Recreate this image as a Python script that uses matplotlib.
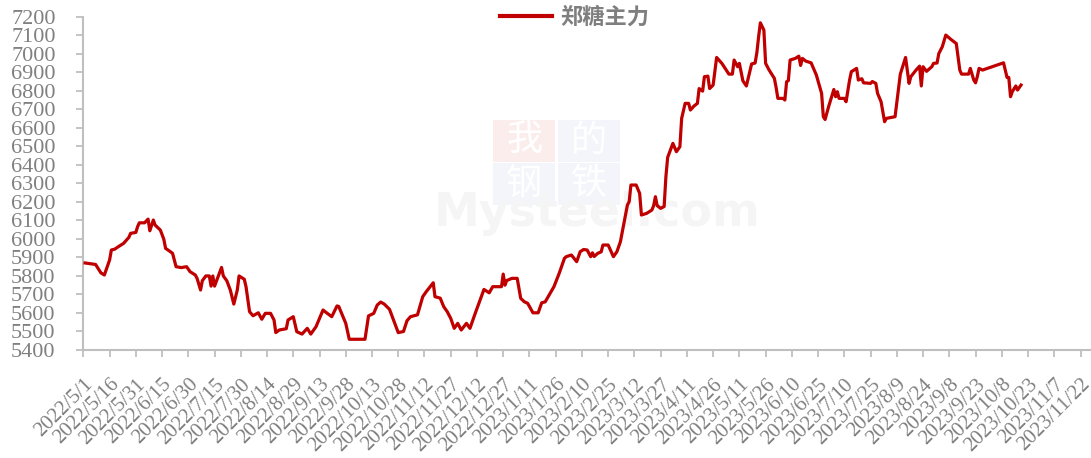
import matplotlib
matplotlib.use("Agg")
import matplotlib.pyplot as plt
from matplotlib.patches import Rectangle
import pandas as pd

series_name = "郑糖主力"

dates = [
    "2022-05-02","2022-05-08","2022-05-11","2022-05-13","2022-05-16","2022-05-17","2022-05-19","2022-05-21",
    "2022-05-24","2022-05-27","2022-05-28","2022-05-31","2022-06-01","2022-06-02","2022-06-05","2022-06-07",
    "2022-06-08","2022-06-10","2022-06-11","2022-06-14","2022-06-16","2022-06-17","2022-06-19","2022-06-21",
    "2022-06-23","2022-06-26","2022-06-29","2022-07-01","2022-07-04","2022-07-05","2022-07-07","2022-07-08",
    "2022-07-10","2022-07-12","2022-07-13","2022-07-14","2022-07-15","2022-07-17","2022-07-19","2022-07-20",
    "2022-07-22","2022-07-24","2022-07-26","2022-07-28","2022-07-29","2022-08-01","2022-08-02","2022-08-04",
    "2022-08-06","2022-08-09","2022-08-11","2022-08-13","2022-08-16","2022-08-18","2022-08-19","2022-08-21",
    "2022-08-25","2022-08-26","2022-08-29","2022-08-31","2022-09-03","2022-09-06","2022-09-08","2022-09-11",
    "2022-09-15","2022-09-17","2022-09-20","2022-09-23","2022-09-24","2022-09-28","2022-09-30","2022-10-09",
    "2022-10-11","2022-10-14","2022-10-16","2022-10-18","2022-10-20","2022-10-23","2022-10-26","2022-10-28",
    "2022-10-31","2022-11-02","2022-11-04","2022-11-08","2022-11-11","2022-11-13","2022-11-17","2022-11-18",
    "2022-11-21","2022-11-23","2022-11-25","2022-11-27","2022-11-29","2022-12-01","2022-12-03","2022-12-06",
    "2022-12-08","2022-12-11","2022-12-16","2022-12-19","2022-12-21","2022-12-26","2022-12-27","2022-12-28",
    "2022-12-29","2023-01-01","2023-01-04","2023-01-06","2023-01-08","2023-01-10","2023-01-13","2023-01-16",
    "2023-01-18","2023-01-20","2023-01-25","2023-01-28","2023-01-31","2023-02-01","2023-02-04","2023-02-07",
    "2023-02-09","2023-02-11","2023-02-13","2023-02-15","2023-02-16","2023-02-17","2023-02-19","2023-02-21",
    "2023-02-22","2023-02-25","2023-02-28","2023-03-02","2023-03-04","2023-03-06","2023-03-08","2023-03-09",
    "2023-03-10","2023-03-13","2023-03-15","2023-03-16","2023-03-19","2023-03-22","2023-03-23","2023-03-24",
    "2023-03-25","2023-03-27","2023-03-29","2023-03-30","2023-03-31","2023-04-03","2023-04-05","2023-04-07",
    "2023-04-08","2023-04-10","2023-04-12","2023-04-13","2023-04-15","2023-04-17","2023-04-18","2023-04-20",
    "2023-04-21","2023-04-23","2023-04-24","2023-04-26","2023-04-28","2023-05-01","2023-05-05","2023-05-07",
    "2023-05-08","2023-05-10","2023-05-11","2023-05-13","2023-05-15","2023-05-18","2023-05-20","2023-05-21",
    "2023-05-22","2023-05-23","2023-05-25","2023-05-26","2023-05-28","2023-05-31","2023-06-01","2023-06-02",
    "2023-06-05","2023-06-06","2023-06-07","2023-06-08","2023-06-09","2023-06-12","2023-06-14","2023-06-15",
    "2023-06-16","2023-06-18","2023-06-21","2023-06-24","2023-06-27","2023-06-28","2023-06-29","2023-07-01",
    "2023-07-04","2023-07-05","2023-07-06","2023-07-07","2023-07-10","2023-07-11","2023-07-13","2023-07-14",
    "2023-07-17","2023-07-18","2023-07-20","2023-07-21","2023-07-25","2023-07-26","2023-07-28","2023-07-29",
    "2023-07-31","2023-08-02","2023-08-03","2023-08-08","2023-08-10","2023-08-11","2023-08-14","2023-08-16",
    "2023-08-17","2023-08-20","2023-08-22","2023-08-23","2023-08-24","2023-08-26","2023-08-29","2023-08-30",
    "2023-09-01","2023-09-02","2023-09-04","2023-09-06","2023-09-09","2023-09-12","2023-09-14","2023-09-15",
    "2023-09-19","2023-09-20","2023-09-22","2023-09-23","2023-09-24","2023-09-25","2023-09-27","2023-10-09",
    "2023-10-11","2023-10-12","2023-10-13","2023-10-14","2023-10-16","2023-10-17","2023-10-19",
]

prices = [
    5870, 5862, 5817, 5805, 5886, 5940, 5945, 5958,
    5976, 6008, 6030, 6035, 6066, 6087, 6087, 6107,
    6044, 6102, 6075, 6048, 5998, 5949, 5936, 5922,
    5850, 5845, 5850, 5823, 5805, 5787, 5724, 5774,
    5800, 5800, 5745, 5800, 5745, 5795, 5846, 5800,
    5774, 5724, 5648, 5724, 5800, 5782, 5741, 5607,
    5585, 5601, 5566, 5598, 5598, 5562, 5494, 5508,
    5515, 5562, 5580, 5499, 5486, 5517, 5486, 5526,
    5616, 5601, 5580, 5638, 5635, 5544, 5458, 5458,
    5584, 5598, 5643, 5659, 5648, 5620, 5544, 5494,
    5500, 5558, 5580, 5590, 5688, 5715, 5763, 5688,
    5680, 5634, 5607, 5571, 5517, 5544, 5508, 5544,
    5517, 5598, 5727, 5709, 5742, 5742, 5810, 5750,
    5775, 5787, 5787, 5679, 5661, 5652, 5601, 5601,
    5655, 5660, 5742, 5814, 5895, 5904, 5913, 5877,
    5931, 5943, 5940, 5904, 5925, 5905, 5922, 5930,
    5967, 5967, 5904, 5931, 5985, 6084, 6183, 6201,
    6291, 6291, 6246, 6129, 6138, 6156, 6180, 6228,
    6180, 6165, 6175, 6336, 6440, 6516, 6471, 6498,
    6651, 6732, 6732, 6696, 6717, 6732, 6812, 6798,
    6876, 6879, 6812, 6831, 6980, 6948, 6890, 6890,
    6966, 6930, 6948, 6854, 6826, 6945, 6950, 7006,
    7092, 7167, 7128, 6948, 6912, 6867, 6818, 6759,
    6759, 6750, 6849, 6855, 6966, 6975, 6987, 6937,
    6975, 6960, 6951, 6885, 6786, 6660, 6645, 6714,
    6807, 6768, 6795, 6759, 6759, 6741, 6858, 6903,
    6921, 6858, 6865, 6843, 6840, 6850, 6840, 6786,
    6741, 6633, 6651, 6660, 6812, 6890, 6980, 6840,
    6876, 6912, 6933, 6826, 6930, 6905, 6930, 6948,
    6950, 7001, 7038, 7101, 7077, 7055, 6912, 6890,
    6890, 6921, 6858, 6843, 6876, 6921, 6912, 6951,
    6872, 6872, 6768, 6795, 6826, 6804, 6831,
]

tick_dates = [
    "2022-05-01","2022-05-16","2022-05-31","2022-06-15","2022-06-30","2022-07-15","2022-07-30","2022-08-14",
    "2022-08-29","2022-09-13","2022-09-28","2022-10-13","2022-10-28","2022-11-12","2022-11-27","2022-12-12",
    "2022-12-27","2023-01-11","2023-01-26","2023-02-10","2023-02-25","2023-03-12","2023-03-27","2023-04-11",
    "2023-04-26","2023-05-11","2023-05-26","2023-06-10","2023-06-25","2023-07-10","2023-07-25","2023-08-09",
    "2023-08-24","2023-09-08","2023-09-23","2023-10-08","2023-10-23","2023-11-07","2023-11-22",
]
tick_labels = [
    "2022/5/1","2022/5/16","2022/5/31","2022/6/15","2022/6/30","2022/7/15","2022/7/30","2022/8/14",
    "2022/8/29","2022/9/13","2022/9/28","2022/10/13","2022/10/28","2022/11/12","2022/11/27","2022/12/12",
    "2022/12/27","2023/1/11","2023/1/26","2023/2/10","2023/2/25","2023/3/12","2023/3/27","2023/4/11",
    "2023/4/26","2023/5/11","2023/5/26","2023/6/10","2023/6/25","2023/7/10","2023/7/25","2023/8/9",
    "2023/8/24","2023/9/8","2023/9/23","2023/10/8","2023/10/23","2023/11/7","2023/11/22",
]
y_ticks = list(range(5400, 7201, 100))

LINE = "#C00000"
AXIS = "#BFBFBF"
TXT = "#808080"

fig = plt.figure(figsize=(10.91, 4.58), dpi=100)
ax = fig.add_axes([0.0764, 0.2358, 0.9236, 0.7277])

x = pd.to_datetime(dates)
ax.plot(x, prices, color=LINE, lw=2.3, solid_joinstyle="round", label=series_name, zorder=5)

ax.set_xlim(pd.Timestamp("2022-05-01"), pd.Timestamp("2023-11-28"))
ax.set_ylim(5400, 7200)

ax.set_yticks(y_ticks)
ax.set_yticklabels([str(v) for v in y_ticks])
ax.set_xticks(pd.to_datetime(tick_dates))
ax.set_xticklabels(tick_labels, rotation=45, ha="right", va="top", rotation_mode="anchor")

for s in ("top", "right"):
    ax.spines[s].set_visible(False)
for s in ("left", "bottom"):
    ax.spines[s].set_color(AXIS)
    ax.spines[s].set_linewidth(1.5)

ax.tick_params(axis="both", colors=AXIS, width=1.3, length=5, direction="out")
ax.tick_params(axis="y", pad=15)
ax.tick_params(axis="x", pad=13)
for lab in ax.get_yticklabels():
    lab.set_fontfamily("Liberation Serif")
    lab.set_fontsize(16)
    lab.set_color(TXT)
for lab in ax.get_xticklabels():
    lab.set_fontfamily("Liberation Serif")
    lab.set_fontsize(15)
    lab.set_color(TXT)

# faint watermark
wm_boxes = [("我", 0.4066, 0.564, "#FCEDED"), ("的", 0.4711, 0.564, "#F3F5FA"),
            ("钢", 0.4066, 0.435, "#F3F5FA"), ("铁", 0.4711, 0.435, "#F3F5FA")]
for ch, bx, by, bg in wm_boxes:
    ax.add_patch(Rectangle((bx, by), 0.0615, 0.125, transform=ax.transAxes,
                           facecolor=bg, edgecolor="none", zorder=0))
    ax.text(bx + 0.031, by + 0.0625, ch, transform=ax.transAxes, ha="center", va="center",
            fontsize=26, color="#FFFFFF", family="Noto Sans CJK SC", zorder=1)
ax.text(0.51, 0.41, "Mysteel.com", transform=ax.transAxes, ha="center", va="center",
        fontsize=33, fontweight="bold", color="#F5F5F5", family="DejaVu Sans", zorder=1)

leg = fig.legend(loc="center", bbox_to_anchor=(0.527, 0.962), frameon=False,
                 handlelength=2.3, handletextpad=0.4,
                 prop={"family": "Noto Sans CJK SC", "size": 16, "weight": "bold"})
for t in leg.get_texts():
    t.set_color("#7F7F7F")
for h in leg.get_lines():
    h.set_linewidth(3)

fig.savefig("out.png", dpi=100)
